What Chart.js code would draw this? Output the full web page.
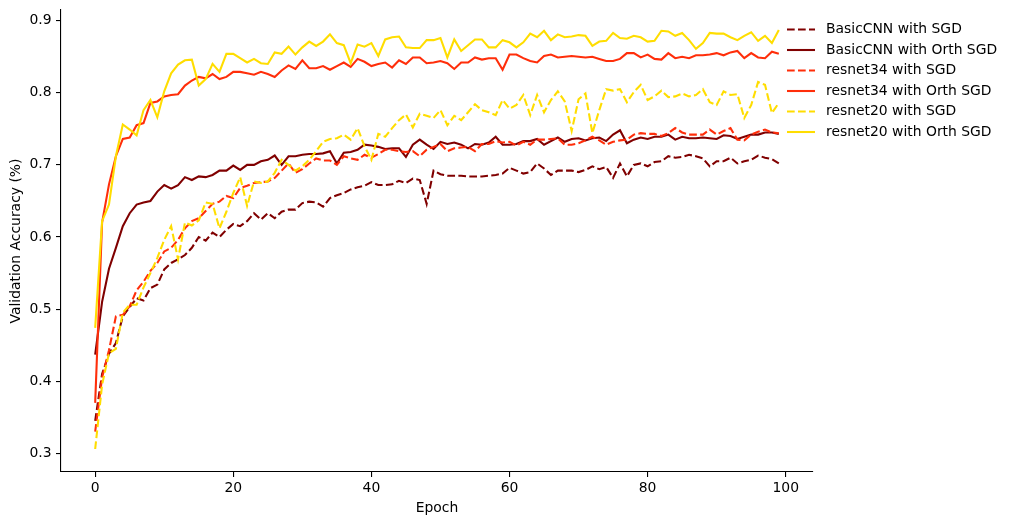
<!DOCTYPE html>
<html>
<head>
<meta charset="utf-8">
<script src="https://cdn.jsdelivr.net/npm/chart.js@4.4.0/dist/chart.umd.min.js"></script>
<style>
  html, body { margin: 0; padding: 0; background: #fff; }
  #wrap { width: 1012px; height: 525px; }
</style>
</head>
<body>
<div id="wrap"><canvas id="grafico" width="1012" height="525"></canvas></div>
<script>
// Epochs 0..99 on the x axis
const epochs = Array.from({ length: 100 }, (_, i) => i);
const xTicks = [0, 20, 40, 60, 80, 100];
const yTicks = [0.3, 0.4, 0.5, 0.6, 0.7, 0.8, 0.9];

const basicSgd = [
  0.345, 0.410, 0.438, 0.453, 0.490, 0.503, 0.515, 0.512, 0.529, 0.534,
  0.555, 0.564, 0.569, 0.575, 0.585, 0.600, 0.595, 0.606, 0.600, 0.610,
  0.618, 0.615, 0.622, 0.633, 0.624, 0.633, 0.626, 0.635, 0.638, 0.638,
  0.647, 0.649, 0.648, 0.642, 0.654, 0.658, 0.661, 0.666, 0.669, 0.671,
  0.676, 0.672, 0.672, 0.673, 0.678, 0.675, 0.681, 0.679, 0.646, 0.692,
  0.687, 0.685, 0.685, 0.685, 0.684, 0.684, 0.684, 0.685, 0.686, 0.688,
  0.696, 0.692, 0.688, 0.690, 0.702, 0.695, 0.686, 0.692, 0.692, 0.692,
  0.690, 0.693, 0.698, 0.694, 0.697, 0.682, 0.702, 0.684, 0.700, 0.702,
  0.698, 0.704, 0.705, 0.712, 0.710, 0.711, 0.714, 0.712, 0.709, 0.698,
  0.705, 0.705, 0.710, 0.702, 0.705, 0.707, 0.713, 0.710, 0.708, 0.702
];
const basicOrth = [
  0.437, 0.510, 0.556, 0.585, 0.615, 0.633, 0.645, 0.648, 0.650, 0.663,
  0.672, 0.667, 0.672, 0.683, 0.679, 0.684, 0.683, 0.686, 0.692, 0.692,
  0.699, 0.693, 0.700, 0.700, 0.705, 0.707, 0.713, 0.700, 0.712, 0.712,
  0.714, 0.715, 0.715, 0.716, 0.719, 0.702, 0.717, 0.718, 0.721, 0.728,
  0.727, 0.725, 0.722, 0.723, 0.723, 0.711, 0.728, 0.735, 0.728, 0.722,
  0.732, 0.729, 0.731, 0.728, 0.723, 0.729, 0.728, 0.731, 0.739, 0.728,
  0.728, 0.729, 0.733, 0.733, 0.736, 0.728, 0.733, 0.738, 0.732, 0.736,
  0.737, 0.734, 0.737, 0.738, 0.733, 0.742, 0.748, 0.730, 0.735, 0.738,
  0.736, 0.739, 0.739, 0.742, 0.735, 0.739, 0.737, 0.737, 0.738, 0.737,
  0.736, 0.741, 0.740, 0.736, 0.739, 0.742, 0.742, 0.745, 0.745, 0.743
];
const res34Sgd = [
  0.330, 0.405, 0.443, 0.490, 0.492, 0.504, 0.526, 0.538, 0.553, 0.564,
  0.580, 0.585, 0.596, 0.612, 0.622, 0.626, 0.636, 0.646, 0.649, 0.657,
  0.654, 0.668, 0.671, 0.675, 0.676, 0.677, 0.682, 0.692, 0.702, 0.689,
  0.694, 0.702, 0.709, 0.706, 0.706, 0.700, 0.712, 0.709, 0.707, 0.714,
  0.710, 0.715, 0.721, 0.721, 0.719, 0.718, 0.719, 0.712, 0.721, 0.725,
  0.729, 0.719, 0.723, 0.724, 0.725, 0.719, 0.729, 0.729, 0.733, 0.731,
  0.732, 0.727, 0.732, 0.728, 0.735, 0.735, 0.736, 0.737, 0.728, 0.728,
  0.730, 0.734, 0.739, 0.734, 0.728, 0.732, 0.734, 0.735, 0.742, 0.744,
  0.743, 0.743, 0.740, 0.744, 0.751, 0.745, 0.742, 0.742, 0.742, 0.749,
  0.742, 0.747, 0.751, 0.735, 0.734, 0.742, 0.746, 0.749, 0.745, 0.744
];
const res34Orth = [
  0.370, 0.620, 0.673, 0.712, 0.736, 0.738, 0.755, 0.758, 0.786, 0.788,
  0.795, 0.797, 0.798, 0.810, 0.817, 0.822, 0.820, 0.826, 0.819, 0.822,
  0.829, 0.829, 0.827, 0.825, 0.829, 0.826, 0.822, 0.831, 0.838, 0.833,
  0.845, 0.834, 0.834, 0.837, 0.832, 0.837, 0.842, 0.836, 0.847, 0.843,
  0.837, 0.840, 0.842, 0.835, 0.845, 0.840, 0.849, 0.849, 0.841, 0.842,
  0.844, 0.841, 0.833, 0.842, 0.842, 0.849, 0.846, 0.848, 0.848, 0.832,
  0.853, 0.853, 0.848, 0.844, 0.842, 0.851, 0.853, 0.849, 0.850, 0.851,
  0.850, 0.849, 0.850, 0.847, 0.844, 0.844, 0.847, 0.855, 0.855, 0.849,
  0.853, 0.847, 0.846, 0.855, 0.848, 0.850, 0.848, 0.852, 0.852, 0.853,
  0.855, 0.852, 0.856, 0.858, 0.848, 0.855, 0.849, 0.848, 0.857, 0.854
];
const res20Sgd = [
  0.306, 0.395, 0.439, 0.445, 0.495, 0.506, 0.506, 0.530, 0.550, 0.571,
  0.596, 0.615, 0.569, 0.620, 0.616, 0.623, 0.648, 0.646, 0.612, 0.635,
  0.661, 0.683, 0.643, 0.677, 0.675, 0.677, 0.689, 0.707, 0.700, 0.692,
  0.698, 0.707, 0.719, 0.732, 0.736, 0.737, 0.742, 0.735, 0.751, 0.726,
  0.707, 0.743, 0.739, 0.751, 0.762, 0.770, 0.752, 0.771, 0.768, 0.765,
  0.776, 0.755, 0.768, 0.762, 0.773, 0.784, 0.776, 0.773, 0.769, 0.790,
  0.778, 0.783, 0.797, 0.769, 0.797, 0.773, 0.790, 0.802, 0.788, 0.747,
  0.791, 0.799, 0.744, 0.776, 0.805, 0.803, 0.805, 0.787, 0.801, 0.811,
  0.790, 0.795, 0.803, 0.794, 0.795, 0.799, 0.795, 0.797, 0.805, 0.787,
  0.783, 0.802, 0.797, 0.798, 0.765, 0.783, 0.815, 0.811, 0.772, 0.786
];
const res20Orth = [
  0.474, 0.622, 0.645, 0.712, 0.756, 0.749, 0.741, 0.776, 0.790, 0.766,
  0.802, 0.827, 0.839, 0.845, 0.846, 0.810, 0.819, 0.840, 0.829, 0.854,
  0.854, 0.848, 0.842, 0.847, 0.841, 0.840, 0.856, 0.854, 0.864, 0.853,
  0.863, 0.871, 0.865, 0.871, 0.881, 0.869, 0.866, 0.841, 0.867, 0.864,
  0.869, 0.851, 0.874, 0.877, 0.878, 0.863, 0.862, 0.862, 0.873, 0.873,
  0.876, 0.849, 0.874, 0.858, 0.866, 0.874, 0.874, 0.863, 0.863, 0.873,
  0.870, 0.863, 0.870, 0.882, 0.877, 0.886, 0.873, 0.881, 0.877, 0.878,
  0.880, 0.879, 0.865, 0.871, 0.872, 0.883, 0.876, 0.875, 0.879, 0.877,
  0.871, 0.872, 0.886, 0.885, 0.879, 0.883, 0.873, 0.861, 0.869, 0.883,
  0.882, 0.882, 0.877, 0.873, 0.879, 0.884, 0.872, 0.879, 0.869, 0.887
];

const corEscuro = '#800000';
const corVermelho = '#ff2e0a';
const corAmarelo = '#ffdd00';
const tracejado = [7.7, 3.3];

Chart.defaults.font.family = '"DejaVu Sans"';
Chart.defaults.font.size = 13.9;
Chart.defaults.color = '#000';

function serie(label, data, cor, dash) {
  return {
    label: label,
    data: data,
    borderColor: cor,
    backgroundColor: cor,
    borderWidth: 2.08,
    borderDash: dash,
    pointRadius: 0,
    tension: 0,
    fill: false
  };
}

const datasets = [
  serie('BasicCNN with SGD', basicSgd, corEscuro, tracejado),
  serie('BasicCNN with Orth SGD', basicOrth, corEscuro, []),
  serie('resnet34 with SGD', res34Sgd, corVermelho, tracejado),
  serie('resnet34 with Orth SGD', res34Orth, corVermelho, []),
  serie('resnet20 with SGD', res20Sgd, corAmarelo, tracejado),
  serie('resnet20 with Orth SGD', res20Orth, corAmarelo, [])
];
// later series on top, like matplotlib
datasets.forEach((ds, i) => { ds.order = datasets.length - i; });

// legend drawn by hand, outside the right edge of the axes
const legendaPlugin = {
  id: 'legenda',
  afterDraw(chart) {
    const ctx = chart.ctx;
    const x0 = chart.chartArea.right - 26;
    ctx.save();
    ctx.font = '13.9px "DejaVu Sans"';
    ctx.textBaseline = 'middle';
    ctx.textAlign = 'left';
    datasets.forEach((ds, i) => {
      const y = 29.5 + i * 20.5;
      ctx.strokeStyle = ds.borderColor;
      ctx.lineWidth = ds.borderWidth;
      ctx.setLineDash(ds.borderDash);
      ctx.beginPath();
      ctx.moveTo(x0, y);
      ctx.lineTo(x0 + 28, y);
      ctx.stroke();
      ctx.setLineDash([]);
      ctx.fillStyle = '#000';
      ctx.fillText(ds.label, x0 + 39, y);
    });
    ctx.restore();
  }
};

const eixoComum = {
  grid: { drawOnChartArea: false, drawTicks: true, tickLength: 5, color: '#000', lineWidth: 1.1 },
  border: { display: true, color: '#000', width: 1.1 }
};

new Chart(document.getElementById('grafico').getContext('2d'), {
  type: 'line',
  data: { labels: epochs, datasets: datasets },
  options: {
    responsive: false,
    animation: false,
    devicePixelRatio: 1,
    layout: { padding: { left: 0, top: 10, right: 199, bottom: 0 } },
    plugins: { legend: { display: false }, tooltip: { enabled: false } },
    scales: {
      x: {
        ...eixoComum,
        type: 'linear',
        min: -4.95,
        max: 103.95,
        afterBuildTicks: s => { s.ticks = xTicks.map(v => ({ value: v })); },
        afterFit: s => { s.height = 53; s.paddingLeft = 0; s.paddingRight = 0; },
        ticks: { padding: 3, maxRotation: 0, callback: v => String(v) },
        title: { display: true, text: 'Epoch', padding: { top: 0, bottom: 8 } }
      },
      y: {
        ...eixoComum,
        min: 0.2741,
        max: 0.9148,
        afterBuildTicks: s => { s.ticks = yTicks.map(v => ({ value: v })); },
        afterFit: s => { s.width = 61; s.paddingTop = 0; s.paddingBottom = 0; },
        ticks: { padding: 4.5, callback: v => v.toFixed(1) },
        title: { display: true, text: 'Validation Accuracy (%)', padding: { top: 8, bottom: 0 } }
      }
    }
  },
  plugins: [legendaPlugin]
});
</script>
</body>
</html>
